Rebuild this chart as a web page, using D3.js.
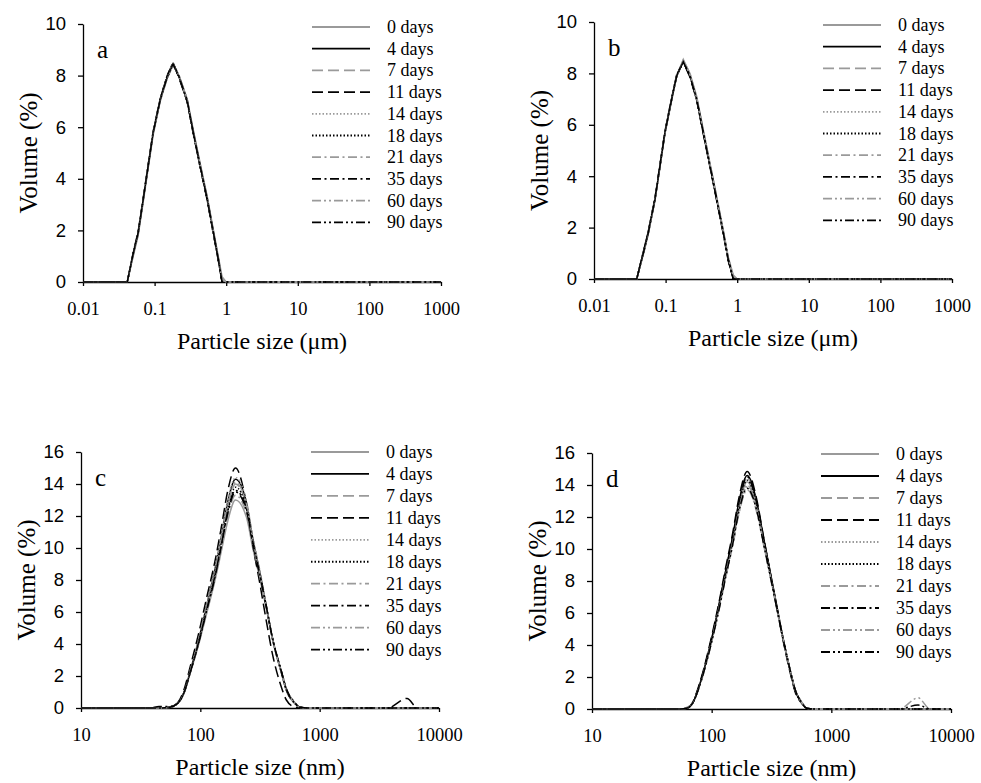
<!DOCTYPE html>
<html>
<head>
<meta charset="utf-8">
<script src="https://cdn.jsdelivr.net/npm/d3@7"></script>
<style>
  body { margin: 0; background: #fff; }
  svg { display: block; }
</style>
</head>
<body>
<svg id="chart"></svg>
<script>
// legend labels (same for all four panels)
var days = ["0 days", "4 days", "7 days", "11 days", "14 days", "18 days", "21 days", "35 days", "60 days", "90 days"]

// tick labels
var xTicksUm = ["0.01", "0.1", "1", "10", "100", "1000"]
var xTicksNm = ["10", "100", "1000", "10000"]
var yTicksSmall = [0, 2, 4, 6, 8, 10]
var yTicksBig = [0, 2, 4, 6, 8, 10, 12, 14, 16]

// panel a : particle size (um) / volume (%)
var sizesA = [0.01, 0.035, 0.0415, 0.0503, 0.0589, 0.0693, 0.0813, 0.0956, 0.1196, 0.150, 0.181, 0.2197, 0.2845, 0.347, 0.433, 0.545, 0.664, 0.78, 0.876, 1.0, 1.2, 1000]
var volA = [
  [0, 0, 0, 1.0, 1.8, 3.1, 4.4, 5.7, 7.0, 7.9, 8.4, 8.0, 7.1, 5.9, 4.6, 3.3, 2.0, 0.95, 0.2, 0, 0, 0],
  [0, 0, 0, 1.1, 1.9, 3.2, 4.5, 5.8, 7.05, 7.95, 8.45, 7.95, 7.05, 5.8, 4.5, 3.2, 1.9, 0.85, 0, 0, 0, 0],
  [0, 0, 0, 1.05, 1.85, 3.15, 4.45, 5.75, 7.0, 7.9, 8.4, 7.95, 7.1, 5.85, 4.55, 3.25, 1.95, 0.9, 0.1, 0, 0, 0],
  [0, 0, 0, 1.15, 1.95, 3.25, 4.55, 5.85, 7.1, 8.0, 8.5, 7.9, 7.0, 5.75, 4.45, 3.15, 1.85, 0.8, 0, 0, 0, 0],
  [0, 0, 0, 1.1, 1.9, 3.2, 4.5, 5.8, 7.05, 7.95, 8.5, 8.0, 7.05, 5.8, 4.5, 3.2, 1.9, 0.85, 0.05, 0, 0, 0],
  [0, 0, 0, 1.1, 1.9, 3.2, 4.5, 5.8, 7.05, 7.9, 8.45, 7.95, 7.0, 5.75, 4.45, 3.15, 1.85, 0.8, 0, 0, 0, 0],
  [0, 0, 0, 1.05, 1.85, 3.15, 4.45, 5.8, 7.05, 7.95, 8.45, 8.0, 7.1, 5.85, 4.55, 3.25, 1.95, 0.9, 0.1, 0, 0, 0],
  [0, 0, 0, 1.1, 1.9, 3.2, 4.5, 5.8, 7.1, 8.0, 8.5, 7.95, 7.0, 5.8, 4.5, 3.2, 1.9, 0.85, 0, 0, 0, 0],
  [0, 0, 0, 1.05, 1.85, 3.2, 4.5, 5.8, 7.05, 7.95, 8.45, 8.0, 7.05, 5.85, 4.55, 3.25, 1.95, 0.9, 0.1, 0, 0, 0],
  [0, 0, 0, 1.1, 1.9, 3.2, 4.5, 5.8, 7.05, 7.95, 8.45, 7.95, 7.05, 5.8, 4.5, 3.2, 1.9, 0.85, 0, 0, 0, 0]
]

// panel b : particle size (um) / volume (%)
var sizesB = [0.01, 0.035, 0.0395, 0.0488, 0.0573, 0.0711, 0.0835, 0.098, 0.1217, 0.143, 0.1766, 0.219, 0.272, 0.336, 0.417, 0.517, 0.640, 0.751, 0.883, 1.0, 1.2, 1000]
var volB = [
  [0, 0, 0, 0.95, 1.75, 3.05, 4.35, 5.65, 6.95, 7.9, 8.55, 8.0, 7.1, 5.8, 4.5, 3.2, 1.9, 0.85, 0.15, 0, 0, 0],
  [0, 0, 0, 1.0, 1.8, 3.1, 4.4, 5.7, 7.0, 7.9, 8.47, 7.9, 7.0, 5.7, 4.4, 3.1, 1.8, 0.75, 0, 0, 0, 0],
  [0, 0, 0, 1.0, 1.8, 3.1, 4.4, 5.7, 7.0, 7.95, 8.5, 7.95, 7.05, 5.75, 4.45, 3.15, 1.85, 0.8, 0.05, 0, 0, 0],
  [0, 0, 0, 1.05, 1.85, 3.15, 4.45, 5.75, 7.05, 7.95, 8.45, 7.85, 6.95, 5.65, 4.35, 3.05, 1.75, 0.7, 0, 0, 0, 0],
  [0, 0, 0, 1.0, 1.8, 3.1, 4.4, 5.7, 7.0, 7.9, 8.5, 7.95, 7.0, 5.75, 4.45, 3.1, 1.8, 0.75, 0.05, 0, 0, 0],
  [0, 0, 0, 1.0, 1.8, 3.1, 4.4, 5.7, 7.0, 7.9, 8.45, 7.9, 7.0, 5.7, 4.4, 3.1, 1.8, 0.75, 0, 0, 0, 0],
  [0, 0, 0, 0.95, 1.75, 3.1, 4.4, 5.7, 7.0, 7.9, 8.5, 8.0, 7.05, 5.8, 4.5, 3.2, 1.85, 0.8, 0.1, 0, 0, 0],
  [0, 0, 0, 1.05, 1.85, 3.15, 4.45, 5.75, 7.05, 7.95, 8.45, 7.9, 6.95, 5.7, 4.4, 3.1, 1.8, 0.75, 0, 0, 0, 0],
  [0, 0, 0, 1.0, 1.8, 3.1, 4.4, 5.7, 7.0, 7.9, 8.5, 7.95, 7.05, 5.75, 4.45, 3.15, 1.85, 0.8, 0.1, 0, 0, 0],
  [0, 0, 0, 1.0, 1.8, 3.1, 4.4, 5.7, 7.0, 7.9, 8.45, 7.9, 7.0, 5.7, 4.4, 3.1, 1.8, 0.75, 0, 0, 0, 0]
]

// panel c : particle size (nm) / volume (%)
var sizesC = [10, 38, 45, 55.6, 64.8, 74.1, 81.7, 97.1, 113, 132, 150, 170, 197, 244, 275, 315, 358, 404, 478, 526, 618, 681, 800, 3700, 5400, 6600, 10000]
var volC = [
  [0, 0, 0, 0.05, 0.3, 1.05, 2.1, 4.0, 5.9, 7.9, 9.8, 11.7, 13.0, 11.9, 10.0, 8.1, 6.2, 4.3, 2.3, 1.2, 0.35, 0.05, 0, 0, 0, 0, 0],
  [0, 0, 0, 0.05, 0.3, 1.1, 2.2, 4.3, 6.4, 8.6, 10.7, 12.9, 14.3, 12.8, 10.6, 8.5, 6.3, 4.25, 2.2, 1.1, 0.3, 0.05, 0, 0, 0, 0, 0],
  [0, 0, 0, 0.05, 0.3, 1.1, 2.2, 4.25, 6.3, 8.4, 10.5, 12.6, 14.0, 12.6, 10.5, 8.4, 6.3, 4.25, 2.2, 1.1, 0.3, 0.05, 0, 0, 0, 0, 0],
  [0, 0, 0, 0.05, 0.35, 1.3, 2.5, 4.7, 6.9, 9.1, 11.3, 13.6, 15.0, 12.7, 10.2, 7.8, 5.4, 3.3, 1.3, 0.5, 0.05, 0, 0, 0, 0.6, 0, 0],
  [0, 0, 0, 0.05, 0.3, 1.1, 2.25, 4.35, 6.45, 8.65, 10.8, 13.0, 14.4, 12.9, 10.7, 8.6, 6.4, 4.3, 2.2, 1.1, 0.3, 0.05, 0, 0, 0, 0, 0],
  [0, 0, 0, 0.05, 0.3, 1.1, 2.15, 4.2, 6.2, 8.3, 10.35, 12.4, 13.8, 12.5, 10.45, 8.4, 6.3, 4.3, 2.25, 1.15, 0.3, 0.05, 0, 0, 0, 0, 0],
  [0, 0, 0, 0.05, 0.3, 1.05, 2.1, 4.05, 6.0, 8.0, 10.0, 12.0, 13.3, 12.1, 10.2, 8.2, 6.2, 4.25, 2.25, 1.15, 0.35, 0.05, 0, 0, 0, 0, 0],
  [0, 0, 0.1, 0.1, 0.3, 1.1, 2.15, 4.1, 6.1, 8.1, 10.15, 12.2, 13.5, 12.3, 10.3, 8.3, 6.3, 4.3, 2.3, 1.2, 0.35, 0.05, 0, 0, 0, 0, 0],
  [0, 0, 0, 0.05, 0.3, 1.1, 2.2, 4.3, 6.35, 8.45, 10.55, 12.7, 14.1, 12.7, 10.55, 8.45, 6.35, 4.25, 2.2, 1.1, 0.3, 0.05, 0, 0, 0, 0, 0],
  [0, 0, 0, 0.05, 0.3, 1.1, 2.15, 4.15, 6.15, 8.2, 10.2, 12.3, 13.6, 12.4, 10.4, 8.35, 6.3, 4.3, 2.25, 1.15, 0.3, 0.05, 0, 0, 0, 0, 0]
]

// panel d : particle size (nm) / volume (%)
var sizesD = [10, 40, 55, 61.8, 69.8, 76.9, 85.1, 100, 115, 131, 150, 169, 198, 238, 270, 307, 349, 396, 457, 497, 565, 622, 700, 3700, 5300, 6700, 10000]
var volD = [
  [0, 0, 0, 0.05, 0.4, 1.2, 2.25, 4.3, 6.35, 8.45, 10.55, 12.6, 14.2, 12.65, 10.55, 8.45, 6.4, 4.35, 2.3, 1.25, 0.4, 0.05, 0, 0, 0, 0, 0],
  [0, 0, 0, 0.05, 0.4, 1.2, 2.3, 4.4, 6.5, 8.65, 10.8, 12.95, 14.6, 12.95, 10.8, 8.65, 6.5, 4.4, 2.3, 1.2, 0.4, 0.05, 0, 0, 0, 0, 0],
  [0, 0, 0, 0.05, 0.4, 1.2, 2.25, 4.35, 6.45, 8.55, 10.7, 12.8, 14.4, 12.8, 10.65, 8.55, 6.45, 4.35, 2.25, 1.2, 0.4, 0.05, 0, 0, 0, 0, 0],
  [0, 0, 0, 0.05, 0.45, 1.3, 2.4, 4.55, 6.65, 8.85, 11.0, 13.2, 14.85, 13.1, 10.85, 8.6, 6.4, 4.25, 2.15, 1.1, 0.35, 0.05, 0, 0, 0, 0, 0],
  [0, 0, 0, 0.05, 0.4, 1.15, 2.2, 4.25, 6.25, 8.3, 10.35, 12.4, 13.9, 12.45, 10.45, 8.4, 6.35, 4.35, 2.3, 1.25, 0.4, 0.05, 0, 0, 0, 0, 0],
  [0, 0, 0, 0.05, 0.4, 1.2, 2.25, 4.33, 6.4, 8.5, 10.6, 12.7, 14.3, 12.7, 10.6, 8.5, 6.4, 4.33, 2.25, 1.2, 0.4, 0.05, 0, 0, 0, 0, 0],
  [0, 0, 0, 0.1, 0.4, 1.15, 2.15, 4.2, 6.15, 8.2, 10.2, 12.2, 13.7, 12.3, 10.35, 8.35, 6.3, 4.3, 2.3, 1.25, 0.45, 0.1, 0, 0, 0, 0, 0],
  [0, 0, 0, 0.05, 0.4, 1.2, 2.3, 4.4, 6.45, 8.6, 10.75, 12.85, 14.5, 12.85, 10.7, 8.6, 6.45, 4.35, 2.25, 1.2, 0.4, 0.05, 0, 0, 0, 0, 0],
  [0, 0, 0, 0.05, 0.4, 1.15, 2.2, 4.25, 6.3, 8.35, 10.45, 12.5, 14.0, 12.5, 10.5, 8.45, 6.4, 4.35, 2.3, 1.25, 0.4, 0.05, 0, 0, 0.7, 0, 0],
  [0, 0, 0, 0.05, 0.4, 1.15, 2.2, 4.2, 6.2, 8.25, 10.3, 12.35, 13.8, 12.4, 10.4, 8.4, 6.35, 4.35, 2.3, 1.25, 0.4, 0.05, 0, 0, 0.25, 0, 0]
]

var width = 981, height = 783
var gray = "#9a9a9a"

// line style per series (gray / black alternating, solid - dash - dot - dashdot - dashdotdot)
var styles = [
  {color: gray, dash: null},
  {color: "#000", dash: null},
  {color: gray, dash: "11,5"},
  {color: "#000", dash: "11,5"},
  {color: gray, dash: "1.5,2"},
  {color: "#000", dash: "1.5,2"},
  {color: gray, dash: "9,3.5,2,3.5"},
  {color: "#000", dash: "9,3.5,2,3.5"},
  {color: gray, dash: "9,3,2,3,2,3"},
  {color: "#000", dash: "9,3,2,3,2,3"}
]

var panels = [
  {letter: "a", sizes: sizesA, vol: volA, left: 83, right: 441, top: 24, bottom: 282,
   xDomain: [0.01, 1000], xTicks: xTicksUm, yMax: 10, yTicks: yTicksSmall, unit: "\u03bcm", smooth: false,
   legX: 312, legY: 27, legStep: 21.7},
  {letter: "b", sizes: sizesB, vol: volB, left: 594, right: 952, top: 22, bottom: 279,
   xDomain: [0.01, 1000], xTicks: xTicksUm, yMax: 10, yTicks: yTicksSmall, unit: "\u03bcm", smooth: false,
   legX: 823, legY: 25, legStep: 21.7},
  {letter: "c", sizes: sizesC, vol: volC, left: 81, right: 439, top: 452, bottom: 708,
   xDomain: [10, 10000], xTicks: xTicksNm, yMax: 16, yTicks: yTicksBig, unit: "nm", smooth: true,
   legX: 311, legY: 452, legStep: 21.95},
  {letter: "d", sizes: sizesD, vol: volD, left: 592, right: 951, top: 453, bottom: 709,
   xDomain: [10, 10000], xTicks: xTicksNm, yMax: 16, yTicks: yTicksBig, unit: "nm", smooth: true,
   legX: 821, legY: 454, legStep: 22}
]

var svg = d3.select("#chart")
  .attr("width", width)
  .attr("height", height)
  .style("background", "#fff")

panels.forEach(function (p) {
  var x = d3.scaleLog().domain(p.xDomain).range([p.left, p.right])
  var y = d3.scaleLinear().domain([0, p.yMax]).range([p.bottom, p.top])

  var g = svg.append("g")

  // x axis
  var xAxis = g.append("g")
    .attr("transform", "translate(0," + p.bottom + ")")
    .call(d3.axisBottom(x)
      .tickValues(p.xTicks.map(Number))
      .tickFormat(function (d, i) { return p.xTicks[i] })
      .tickSize(4).tickSizeOuter(0).tickPadding(16))
  xAxis.selectAll("text")
    .attr("font-family", "'Liberation Serif', 'Times New Roman', serif")
    .attr("font-size", 18.5)
    .attr("fill", "#000")

  // y axis
  var yAxis = g.append("g")
    .attr("transform", "translate(" + p.left + ",0)")
    .call(d3.axisLeft(y)
      .tickValues(p.yTicks)
      .tickSize(5).tickSizeOuter(0).tickPadding(12))
  yAxis.selectAll("text")
    .attr("font-family", "'Liberation Sans', Arial, sans-serif")
    .attr("font-size", 18.5)
    .attr("fill", "#000")

  g.selectAll(".domain, .tick line")
    .attr("stroke", "#000")
    .attr("stroke-width", 1.3)

  // curves
  var line = d3.line()
    .x(function (d) { return x(d[0]) })
    .y(function (d) { return y(d[1]) })
    .curve(p.smooth ? d3.curveMonotoneX : d3.curveLinear)

  g.selectAll(".curve")
    .data(p.vol)
    .enter().append("path")
    .attr("class", "curve")
    .attr("fill", "none")
    .attr("stroke", function (d, i) { return styles[i].color })
    .attr("stroke-width", 1.5)
    .attr("stroke-dasharray", function (d, i) { return styles[i].dash })
    .attr("d", function (d) { return line(d.map(function (v, j) { return [p.sizes[j], v] })) })

  // legend
  var leg = g.selectAll(".leg")
    .data(days)
    .enter().append("g")
    .attr("class", "leg")
    .attr("transform", function (d, i) { return "translate(" + p.legX + "," + (p.legY + i * p.legStep) + ")" })
  leg.append("line")
    .attr("x1", 0).attr("x2", 58)
    .attr("stroke", function (d, i) { return styles[i].color })
    .attr("stroke-width", 1.8)
    .attr("stroke-dasharray", function (d, i) { return styles[i].dash })
  leg.append("text")
    .attr("x", 75)
    .attr("y", 6)
    .attr("font-family", "'Liberation Serif', 'Times New Roman', serif")
    .attr("font-size", 18)
    .text(function (d) { return d })

  // panel letter
  g.append("text")
    .attr("x", p.left + 14)
    .attr("y", p.top + 34)
    .attr("font-family", "'Liberation Serif', 'Times New Roman', serif")
    .attr("font-size", 25)
    .text(p.letter)

  // axis titles
  g.append("text")
    .attr("transform", "translate(" + (p.left - 46) + "," + ((p.top + p.bottom) / 2) + ") rotate(-90)")
    .attr("text-anchor", "middle")
    .attr("font-family", "'Liberation Serif', 'Times New Roman', serif")
    .attr("font-size", 25)
    .text("Volume (%)")

  g.append("text")
    .attr("x", (p.left + p.right) / 2)
    .attr("y", p.bottom + 67)
    .attr("text-anchor", "middle")
    .attr("font-family", "'Liberation Serif', 'Times New Roman', serif")
    .attr("font-size", 24)
    .text("Particle size (" + p.unit + ")")
})
</script>
</body>
</html>
